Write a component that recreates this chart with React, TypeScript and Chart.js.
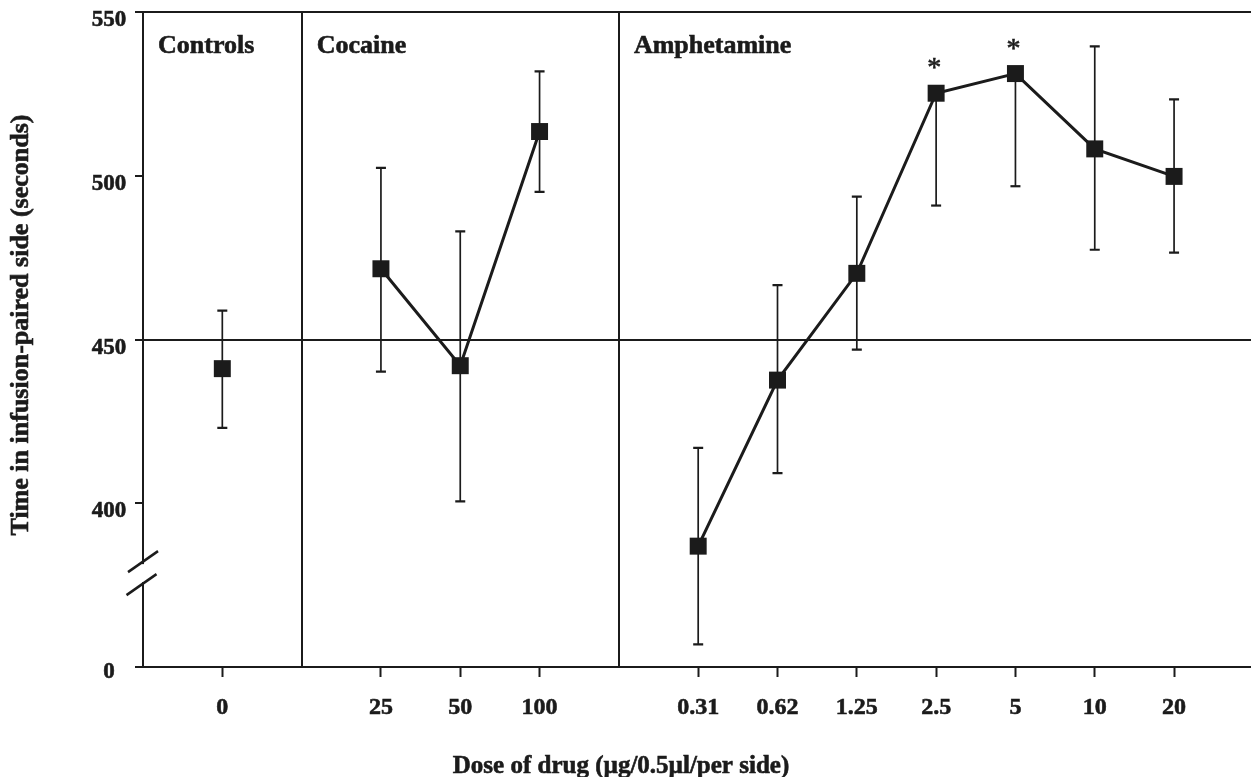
import React, { useEffect, useRef } from "react";
import { Chart, registerables } from "chart.js";

Chart.register(...registerables);

// ---- data ----
const groupNames = ["Controls", "Cocaine", "Amphetamine"];
const doseLabels = ["0", "25", "50", "100", "0.31", "0.62", "1.25", "2.5", "5", "10", "20"];
const doseGroup = [0, 1, 1, 1, 2, 2, 2, 2, 2, 2, 2];
const meanTime = [441.1, 471.6, 442.0, 513.5, 386.9, 437.6, 470.2, 525.2, 531.2, 508.2, 499.8];
const errUpper = [17.7, 30.8, 41.0, 18.4, 30.0, 29.0, 23.4, 0, 0, 31.3, 23.5];
const errLower = [18.1, 31.4, 41.4, 18.4, 30.0, 28.4, 23.3, 34.3, 34.4, 30.8, 23.3];
const significant = [false, false, false, false, false, false, false, true, true, false, false];
const yTickValues = [350, 400, 450, 500, 550];
const yTickLabels = ["0", "400", "450", "500", "550"];
const yReferenceLines = [450, 550];
const xTitle = "Dose of drug (\u00b5g/0.5\u00b5l/per side)";
const yTitle = "Time in infusion-paired side (seconds)";

// position along the axis: one empty slot between groups
const xPos = doseLabels.map((_, i) => i + doseGroup[i]);

const INK = "#1b1b1b";
const FONT = "'Liberation Serif', 'Times New Roman', serif";

function heavyText(ctx: CanvasRenderingContext2D, text: string, x: number, y: number) {
  ctx.fillText(text, x, y);
  ctx.strokeText(text, x, y);
}

const overlay = {
  id: "overlay",
  beforeDraw(chart: any) {
    const ctx = chart.ctx;
    ctx.save();
    ctx.fillStyle = "#ffffff";
    ctx.fillRect(0, 0, chart.width, chart.height);
    ctx.restore();
  },
  beforeDatasetsDraw(chart: any) {
    const ctx = chart.ctx;
    const { top, bottom } = chart.chartArea;
    const xs = chart.scales.x;
    const ys = chart.scales.y;
    ctx.save();
    // group dividers
    ctx.strokeStyle = INK;
    ctx.lineWidth = 2;
    for (let g = 1; g < groupNames.length; g++) {
      const first = doseGroup.indexOf(g);
      const px = Math.round(xs.getPixelForValue(xPos[first] - 1));
      ctx.beginPath();
      ctx.moveTo(px, top);
      ctx.lineTo(px, bottom);
      ctx.stroke();
    }
    // error bars
    const cap = 5;
    for (let i = 0; i < doseLabels.length; i++) {
      const px = xs.getPixelForValue(xPos[i]);
      const pu = ys.getPixelForValue(meanTime[i] + errUpper[i]);
      const pl = ys.getPixelForValue(meanTime[i] - errLower[i]);
      ctx.lineWidth = 1.7;
      ctx.beginPath();
      ctx.moveTo(px, pu);
      ctx.lineTo(px, pl);
      ctx.stroke();
      ctx.lineWidth = 2.2;
      ctx.beginPath();
      if (errUpper[i] > 0) {
        ctx.moveTo(px - cap, pu);
        ctx.lineTo(px + cap, pu);
      }
      if (errLower[i] > 0) {
        ctx.moveTo(px - cap, pl);
        ctx.lineTo(px + cap, pl);
      }
      ctx.stroke();
    }
    ctx.restore();
  },
  afterDatasetsDraw(chart: any) {
    const ctx = chart.ctx;
    const xs = chart.scales.x;
    const ys = chart.scales.y;
    ctx.save();
    ctx.fillStyle = INK;
    ctx.strokeStyle = INK;
    ctx.lineWidth = 0.6;
    ctx.font = `28px ${FONT}`;
    ctx.textAlign = "center";
    ctx.textBaseline = "alphabetic";
    for (let i = 0; i < doseLabels.length; i++) {
      if (!significant[i]) continue;
      const px = xs.getPixelForValue(xPos[i]);
      const py = ys.getPixelForValue(meanTime[i]);
      heavyText(ctx, "*", px - 2, py - 31 + 14);
    }
    ctx.restore();
  },
  afterDraw(chart: any) {
    const ctx = chart.ctx;
    const { top, bottom, left } = chart.chartArea;
    const xs = chart.scales.x;
    const ys = chart.scales.y;
    ctx.save();
    ctx.fillStyle = INK;
    ctx.strokeStyle = INK;

    // axis break
    const mid = (ys.getPixelForValue(400) + ys.getPixelForValue(350)) / 2 - 12;
    ctx.fillStyle = "#ffffff";
    ctx.fillRect(left - 3, mid - 9, 6, 18);
    ctx.fillStyle = INK;
    ctx.lineWidth = 2.5;
    for (const dy of [-11.5, 11.5]) {
      const cy = mid + dy;
      const cx = left - (dy > 0 ? 1.5 : 0);
      ctx.beginPath();
      ctx.moveTo(cx - 15, cy + 10.5);
      ctx.lineTo(cx + 15, cy - 10.5);
      ctx.stroke();
    }

    ctx.lineWidth = 0.6;
    // y tick labels
    ctx.font = `bold 23px ${FONT}`;
    ctx.textAlign = "center";
    ctx.textBaseline = "alphabetic";
    yTickValues.forEach((v, i) => {
      const py = ys.getPixelForValue(v);
      const off = i === 0 ? 11 : 14;
      heavyText(ctx, yTickLabels[i], left - 34, py + off);
    });

    // x tick labels
    ctx.font = `bold 24px ${FONT}`;
    doseLabels.forEach((lab, i) => {
      const px = xs.getPixelForValue(xPos[i]);
      heavyText(ctx, lab, px, bottom + 47);
    });

    // group labels
    ctx.font = `bold 26px ${FONT}`;
    ctx.textAlign = "left";
    groupNames.forEach((name, g) => {
      const first = doseGroup.indexOf(g);
      const base = g === 0 ? left : xs.getPixelForValue(xPos[first] - 1);
      heavyText(ctx, name, base + 15, top + 41);
    });

    // x title
    ctx.font = `bold 25px ${FONT}`;
    ctx.textAlign = "center";
    heavyText(ctx, xTitle, 621, 773);

    // y title
    ctx.font = `bold 26px ${FONT}`;
    ctx.translate(28, 325);
    ctx.rotate(-Math.PI / 2);
    heavyText(ctx, yTitle, 0, 0);
    ctx.restore();
  },
};

export default function App() {
  const ref = useRef<HTMLCanvasElement>(null);

  useEffect(() => {
    if (!ref.current) return;
    const datasets = groupNames.map((name, g) => {
      const idx = doseLabels.map((_, i) => i).filter((i) => doseGroup[i] === g);
      return {
        label: name,
        data: idx.map((i) => ({ x: xPos[i], y: meanTime[i] })),
        borderColor: INK,
        backgroundColor: INK,
        borderWidth: 3,
        pointStyle: "rect" as const,
        pointRadius: 12,
        pointHoverRadius: 12,
        pointBorderWidth: 0,
        pointBackgroundColor: INK,
        tension: 0,
        showLine: true,
      };
    });

    const chart = new Chart(ref.current, {
      type: "line",
      data: { datasets },
      plugins: [overlay],
      options: {
        responsive: false,
        animation: false,
        events: [],
        layout: { autoPadding: false, padding: { top: 12, left: 0, right: 0, bottom: 0 } },
        plugins: { legend: { display: false }, tooltip: { enabled: false } },
        scales: {
          x: {
            type: "linear",
            min: xPos[0] - 1,
            max: xPos[xPos.length - 1] + 0.97,
            afterBuildTicks: (s: any) => {
              s.ticks = xPos.map((v) => ({ value: v }));
            },
            afterFit: (s: any) => {
              s.height = 110;
            },
            ticks: { display: false, autoSkip: false },
            grid: {
              drawOnChartArea: false,
              drawTicks: true,
              tickLength: 10,
              tickWidth: 2,
              tickColor: INK,
              color: INK,
            },
            border: { display: true, color: INK, width: 2 },
          },
          y: {
            type: "linear",
            min: yTickValues[0],
            max: yTickValues[yTickValues.length - 1],
            afterBuildTicks: (s: any) => {
              s.ticks = yTickValues.map((v) => ({ value: v }));
            },
            afterFit: (s: any) => {
              s.width = 143;
            },
            ticks: { display: false },
            grid: {
              drawOnChartArea: true,
              drawTicks: true,
              tickLength: 8,
              tickWidth: 2,
              tickColor: INK,
              lineWidth: 2,
              color: (c: any) =>
                c.tick && yReferenceLines.includes(c.tick.value) ? INK : "rgba(0,0,0,0)",
            },
            border: { display: true, color: INK, width: 2 },
          },
        },
      },
    });
    return () => chart.destroy();
  }, []);

  return (
    <div style={{ position: "absolute", left: 0, top: 0, width: 1251, height: 777, background: "#fff" }}>
      <canvas ref={ref} width={1251} height={777} style={{ display: "block" }} />
    </div>
  );
}
